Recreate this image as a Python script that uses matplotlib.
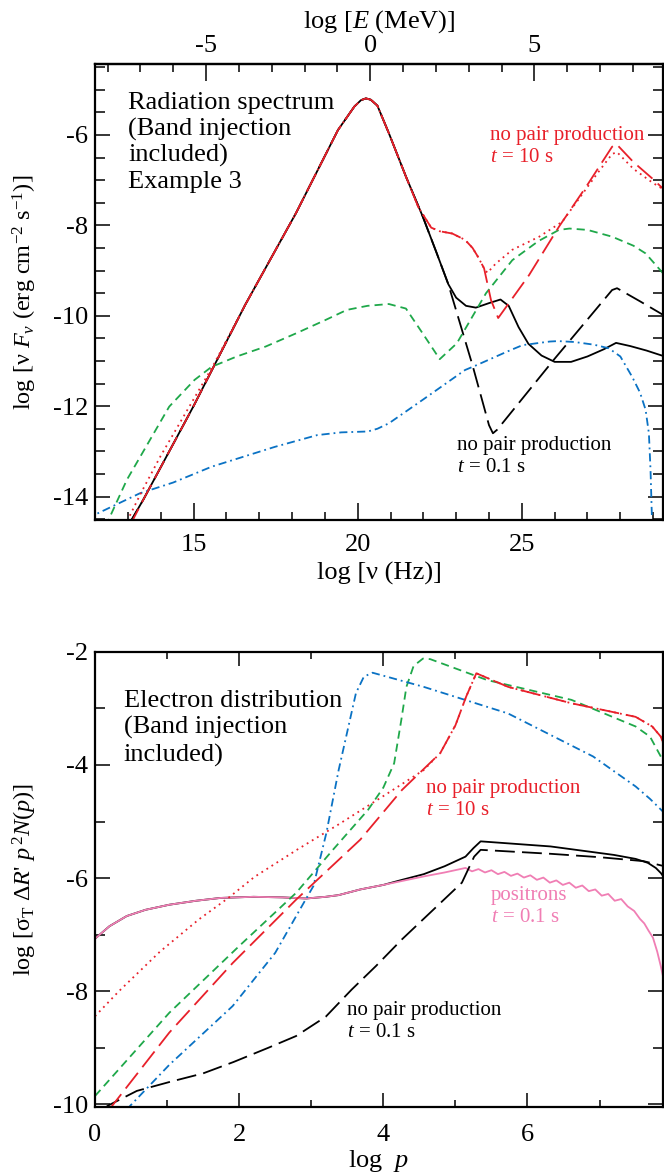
import numpy as np
import matplotlib
matplotlib.use("Agg")
import matplotlib.pyplot as plt
from matplotlib.ticker import MultipleLocator, FixedLocator

plt.rcParams.update({
    "font.family": ["Liberation Serif", "DejaVu Serif"],
    "mathtext.fontset": "custom",
    "mathtext.rm": "Liberation Serif",
    "mathtext.it": "Liberation Serif:italic",
    "mathtext.cal": "Liberation Serif:italic",
    "axes.unicode_minus": False,
})

RED = "#e8202a"
GREEN = "#1fa84a"
BLUE = "#0a72c4"
PINK = "#f07eb4"
BLACK = "black"

# ── Top panel: radiation spectrum (log nu [Hz], log nuFnu) ───────────────────
# shared Band peak (black curves)
PEAK_NU = [13.0, 13.47, 15.0, 16.58, 18.12, 19.4, 19.9, 20.1, 20.25, 20.4, 20.6, 20.95, 21.47]
PEAK_F = [-14.66, -14.07, -12.0, -9.75, -7.73, -5.89, -5.37, -5.23, -5.19, -5.22, -5.35, -5.96, -6.92]

# black solid, t = 0.1 s
BLK_TAIL_NU = [21.98, 22.4, 22.76, 23.0, 23.3, 23.6, 24.0, 24.35, 24.6, 24.9, 25.2, 25.6,
               26.0, 26.5, 27.0, 27.5, 27.87, 28.3, 28.8, 29.35]
BLK_TAIL_F = [-7.8, -8.6, -9.3, -9.6, -9.78, -9.82, -9.72, -9.64, -9.78, -10.25, -10.62, -10.88,
              -11.02, -11.02, -10.9, -10.74, -10.6, -10.67, -10.77, -10.9]

# black dashed, no pair production, t = 0.1 s
BNP_TAIL_NU = [21.98, 22.4, 22.76, 23.5, 24.0, 24.12, 24.25, 26.0, 27.75, 27.9, 28.6, 29.35]
BNP_TAIL_F = [-7.8, -8.6, -9.3, -11.1, -12.42, -12.6, -12.52, -10.95, -9.43, -9.39, -9.68, -10.0]

# red, t = 10 s : low-energy start and shoulder shared by both red curves
RED_LOW_NU = [12.9, 13.4, 14.0, 15.0, 15.6]
RED_LOW_F = [-14.66, -13.92, -13.1, -11.85, -11.1]
RED_SH_NU = [21.85, 22.24, 22.5, 22.88, 23.27, 23.5, 23.66, 23.85]
RED_SH_F = [-7.6, -8.05, -8.13, -8.18, -8.32, -8.5, -8.69, -8.95]
RDOT_TAIL_NU = [23.95, 24.2, 24.71, 25.53, 26.23, 26.8, 27.3, 27.75, 27.9, 28.4, 28.97, 29.35]
RDOT_TAIL_F = [-9.05, -8.85, -8.54, -8.25, -7.92, -7.35, -6.85, -6.42, -6.38, -6.75, -7.05, -7.22]
RNP_TAIL_NU = [24.06, 24.28, 25.22, 26.13, 27.0, 27.75, 27.88, 28.4, 28.97, 29.35]
RNP_TAIL_F = [-9.65, -10.05, -9.1, -8.03, -7.1, -6.26, -6.2, -6.6, -6.96, -7.22]

GRN_NU = [12.32, 12.97, 14.26, 15.03, 15.55, 16.32, 17.2, 18.12, 19.0, 19.67, 20.3, 20.95,
          21.47, 21.98, 22.5, 23.02, 23.91, 24.71, 25.5, 26.13, 26.45, 27.0, 27.75, 28.4,
          28.77, 29.35]
GRN_F = [-14.66, -13.63, -12.01, -11.42, -11.13, -10.9, -10.68, -10.39, -10.1, -9.87, -9.78,
         -9.74, -9.84, -10.39, -10.96, -10.61, -9.5, -8.77, -8.35, -8.1, -8.07, -8.1, -8.25,
         -8.45, -8.62, -9.1]

BLU_NU = [11.8, 12.0, 13.36, 14.38, 15.55, 17.48, 18.77, 19.5, 20.31, 20.6, 20.95, 21.98,
          23.27, 23.6, 24.56, 25.02, 25.85, 26.1, 26.6, 27.2, 27.65, 28.0, 28.36, 28.6,
          28.77, 28.87, 28.92, 28.97]
BLU_F = [-14.55, -14.4, -13.93, -13.69, -13.34, -12.9, -12.64, -12.58, -12.56, -12.5, -12.38,
         -11.86, -11.2, -11.1, -10.79, -10.65, -10.57, -10.56, -10.58, -10.64, -10.72, -10.9,
         -11.35, -11.7, -12.08, -12.6, -13.41, -14.66]

# ── Bottom panel: electron distribution (log p, log sigT dR' p^2 N(p)) ───────
E_P = [0.0, 0.2, 0.44, 0.7, 1.03, 1.4, 1.74, 2.2, 2.6, 2.93, 3.2, 3.38, 3.68, 4.0]
E_N = [-7.07, -6.85, -6.67, -6.56, -6.47, -6.4, -6.35, -6.33, -6.34, -6.36, -6.33, -6.3,
       -6.2, -6.12]

BLK2_TAIL_P = [4.26, 4.56, 4.85, 5.14, 5.25, 5.35, 6.32, 7.2, 7.5, 7.67, 7.78, 7.85, 7.9]
BLK2_TAIL_N = [-6.03, -5.93, -5.79, -5.62, -5.47, -5.35, -5.44, -5.59, -5.66, -5.73, -5.82,
               -5.91, -6.0]

POS_TAIL_P = [4.26, 4.56, 4.85, 5.14, 5.23, 5.32, 5.41, 5.5, 5.59, 5.68, 5.77, 5.86, 5.95,
              6.04, 6.13, 6.22, 6.31, 6.4, 6.49, 6.58, 6.67, 6.76, 6.85, 6.94, 7.03, 7.12,
              7.21, 7.3, 7.39, 7.48, 7.56, 7.62, 7.68, 7.74, 7.8, 7.85, 7.9]
POS_TAIL_N = [-6.05, -5.97, -5.9, -5.82, -5.88, -5.84, -5.9, -5.86, -5.93, -5.89, -5.96,
              -5.92, -5.99, -5.95, -6.03, -5.99, -6.08, -6.04, -6.12, -6.08, -6.17, -6.13,
              -6.23, -6.2, -6.31, -6.28, -6.4, -6.37, -6.5, -6.58, -6.72, -6.8, -6.93,
              -7.05, -7.3, -7.56, -7.85]

BNP2_P = [0.1, 0.18, 0.58, 1.04, 1.5, 1.92, 2.4, 2.79, 3.2, 3.56, 3.9, 4.26, 4.7, 5.09,
          5.26, 5.35, 6.32, 7.0, 7.61, 7.9]
BNP2_N = [-10.1, -10.02, -9.76, -9.6, -9.45, -9.25, -9.0, -8.79, -8.45, -7.97, -7.55, -7.08,
          -6.55, -6.08, -5.62, -5.5, -5.57, -5.63, -5.7, -5.79]

RED2_TAIL_P = [5.0, 5.15, 5.29, 5.73, 6.61, 7.5, 7.73, 7.85, 7.9]
RED2_TAIL_N = [-3.3, -2.79, -2.38, -2.62, -2.91, -3.15, -3.32, -3.5, -3.68]
RDOT2_P = [0.0, 0.33, 0.9, 1.44, 1.85, 2.21, 2.8, 3.38, 4.0, 4.56, 4.79]
RDOT2_N = [-8.44, -8.0, -7.3, -6.73, -6.35, -5.98, -5.5, -5.05, -4.55, -4.09, -3.79]
RNP2_P = [0.2, 0.24, 1.03, 1.91, 2.79, 3.68, 4.26, 4.79]
RNP2_N = [-10.1, -10.02, -8.73, -7.5, -6.38, -5.32, -4.44, -3.79]

GRN2_P = [0.0, 1.03, 2.0, 2.79, 3.3, 3.79, 4.0, 4.15, 4.25, 4.32, 4.42, 4.55, 4.65, 5.44,
          6.61, 7.5, 7.7, 7.9]
GRN2_N = [-9.85, -8.38, -7.2, -6.26, -5.5, -4.79, -4.4, -3.97, -3.2, -2.62, -2.25, -2.12,
          -2.13, -2.5, -2.85, -3.32, -3.5, -3.97]

BLU2_P = [0.44, 0.49, 1.03, 1.91, 2.5, 2.93, 3.03, 3.21, 3.38, 3.62, 3.73, 3.85, 4.56,
          5.73, 6.91, 7.5, 7.7, 7.9]
BLU2_N = [-10.1, -10.02, -9.3, -8.26, -7.32, -6.36, -6.14, -5.2, -4.09, -2.73, -2.44, -2.37,
          -2.62, -3.09, -3.85, -4.38, -4.6, -4.85]

E_TICKS = [-5, 0, 5]
E_OFFSET = 20.383   # log10(nu / Hz) at E = 1 MeV

LW = 1.3
LONG = (11, 4)
SHORT = (4.5, 2.8)
DASHDOT = (4.5, 2.2, 1, 2.2)
DOTS = (1, 2.3)

TXT = 19
YLAB = 17.5
SMALL = 15
TICKFS = 19


def style_axis(ax, xmaj, xmin, ymaj, ymin, xlen, ylen, top=True, xpad=9):
    ax.xaxis.set_major_locator(MultipleLocator(xmaj))
    ax.xaxis.set_minor_locator(MultipleLocator(xmin))
    ax.yaxis.set_major_locator(MultipleLocator(ymaj))
    ax.yaxis.set_minor_locator(MultipleLocator(ymin))
    ax.tick_params(axis="x", which="both", direction="in", top=top, bottom=True,
                   width=1.1, labelsize=TICKFS, pad=xpad)
    ax.tick_params(axis="x", which="major", length=xlen[0])
    ax.tick_params(axis="x", which="minor", length=xlen[1])
    ax.tick_params(axis="y", which="both", direction="in", left=True, right=True,
                   width=1.1, labelsize=TICKFS, pad=5)
    ax.tick_params(axis="y", which="major", length=ylen[0])
    ax.tick_params(axis="y", which="minor", length=ylen[1])
    for s in ax.spines.values():
        s.set_linewidth(1.6)


fig = plt.figure(figsize=(6.64, 11.75), dpi=100)
fig.patch.set_facecolor("white")

# ── Top panel ────────────────────────────────────────────────────────────────
ax1 = fig.add_axes([0.1431, 0.5574, 0.8554, 0.3881])
ax1.set_xlim(12.0, 29.3)
ax1.set_ylim(-14.52, -4.43)

ax1.plot(PEAK_NU + BLK_TAIL_NU, PEAK_F + BLK_TAIL_F, color=BLACK, lw=LW)
ax1.plot(PEAK_NU + BNP_TAIL_NU, PEAK_F + BNP_TAIL_F, color=BLACK, lw=LW, dashes=LONG)
ax1.plot(GRN_NU, GRN_F, color=GREEN, lw=LW, dashes=SHORT)
ax1.plot(BLU_NU, BLU_F, color=BLUE, lw=LW, dashes=DASHDOT)
ax1.plot(RED_LOW_NU + PEAK_NU[3:] + RED_SH_NU + RDOT_TAIL_NU,
         RED_LOW_F + PEAK_F[3:] + RED_SH_F + RDOT_TAIL_F, color=RED, lw=LW, dashes=DOTS)
ax1.plot([13.05] + PEAK_NU[1:] + RED_SH_NU + RNP_TAIL_NU,
         [-14.66] + PEAK_F[1:] + RED_SH_F + RNP_TAIL_F, color=RED, lw=LW, dashes=LONG)

style_axis(ax1, 5, 1, 2, 0.5, (12, 6), (11, 7.5), top=False, xpad=10)
ax1.set_xlabel("log [ν (Hz)]", fontsize=TXT)
ax1.xaxis.set_label_coords(0.5, -0.118)
ax1.xaxis.label.set_va("center")
ax1.set_ylabel("log [ν $F_{ν}$ (erg cm$^{-2}$ s$^{-1}$)]", fontsize=YLAB)
ax1.yaxis.set_label_coords(-0.123, 0.5)
ax1.yaxis.label.set_va("center")

sec = ax1.secondary_xaxis("top", functions=(lambda x: x - E_OFFSET, lambda e: e + E_OFFSET))
sec.xaxis.set_major_locator(FixedLocator(E_TICKS))
sec.xaxis.set_minor_locator(MultipleLocator(1))
sec.tick_params(axis="x", which="both", direction="in", width=1.1, labelsize=TICKFS, pad=5)
sec.tick_params(axis="x", which="major", length=12)
sec.tick_params(axis="x", which="minor", length=6)
sec.spines["top"].set_linewidth(1.6)
ax1.text(0.5, 1.093, "log [$E$ (MeV)]", transform=ax1.transAxes,
         ha="center", va="center", fontsize=TXT)

ax1.text(0.058, 0.828, "Radiation spectrum\n(Band injection\nincluded)\nExample 3",
         transform=ax1.transAxes, ha="left", va="center", fontsize=TXT, linespacing=1.2)
ax1.text(0.695, 0.8186, "no pair production\n$t$ = 10 s", transform=ax1.transAxes,
         ha="left", va="center", fontsize=SMALL, color=RED, linespacing=1.2)
ax1.text(0.637, 0.139, "no pair production\n$t$ = 0.1 s", transform=ax1.transAxes,
         ha="left", va="center", fontsize=SMALL, color=BLACK, linespacing=1.2)

# ── Bottom panel ─────────────────────────────────────────────────────────────
ax2 = fig.add_axes([0.1431, 0.0576, 0.8554, 0.3877])
ax2.set_xlim(0.0, 7.88)
ax2.set_ylim(-10.05, -2.0)

ax2.plot(E_P + BLK2_TAIL_P, E_N + BLK2_TAIL_N, color=BLACK, lw=LW)
ax2.plot(E_P + POS_TAIL_P, E_N + POS_TAIL_N, color=PINK, lw=LW)
ax2.plot(BNP2_P, BNP2_N, color=BLACK, lw=LW, dashes=LONG)
ax2.plot(GRN2_P, GRN2_N, color=GREEN, lw=LW, dashes=SHORT)
ax2.plot(BLU2_P, BLU2_N, color=BLUE, lw=LW, dashes=DASHDOT)
ax2.plot(RDOT2_P + RED2_TAIL_P, RDOT2_N + RED2_TAIL_N, color=RED, lw=LW, dashes=DOTS)
ax2.plot(RNP2_P + RED2_TAIL_P, RNP2_N + RED2_TAIL_N, color=RED, lw=LW, dashes=LONG)

style_axis(ax2, 2, 1, 2, 1, (10, 5), (11, 7.5), top=True, xpad=12)
ax2.set_xlabel("log  $p$", fontsize=TXT)
ax2.xaxis.set_label_coords(0.5, -0.118)
ax2.xaxis.label.set_va("center")
ax2.set_ylabel("log [σ$_{\\rm T}$ Δ$R$' $p^{\\,2}N(p)$]", fontsize=YLAB)
ax2.yaxis.set_label_coords(-0.123, 0.5)
ax2.yaxis.label.set_va("center")

ax2.text(0.0505, 0.832, "Electron distribution\n(Band injection\nincluded)",
         transform=ax2.transAxes, ha="left", va="center", fontsize=TXT, linespacing=1.25)
ax2.text(0.582, 0.676, "no pair production\n$t$ = 10 s", transform=ax2.transAxes,
         ha="left", va="center", fontsize=SMALL, color=RED, linespacing=1.2)
ax2.text(0.6975, 0.44, "positrons\n$t$ = 0.1 s", transform=ax2.transAxes,
         ha="left", va="center", fontsize=SMALL, color=PINK, linespacing=1.2)
ax2.text(0.444, 0.188, "no pair production\n$t$ = 0.1 s", transform=ax2.transAxes,
         ha="left", va="center", fontsize=SMALL, color=BLACK, linespacing=1.2)

fig.savefig("out.png", dpi=100, facecolor="white")
